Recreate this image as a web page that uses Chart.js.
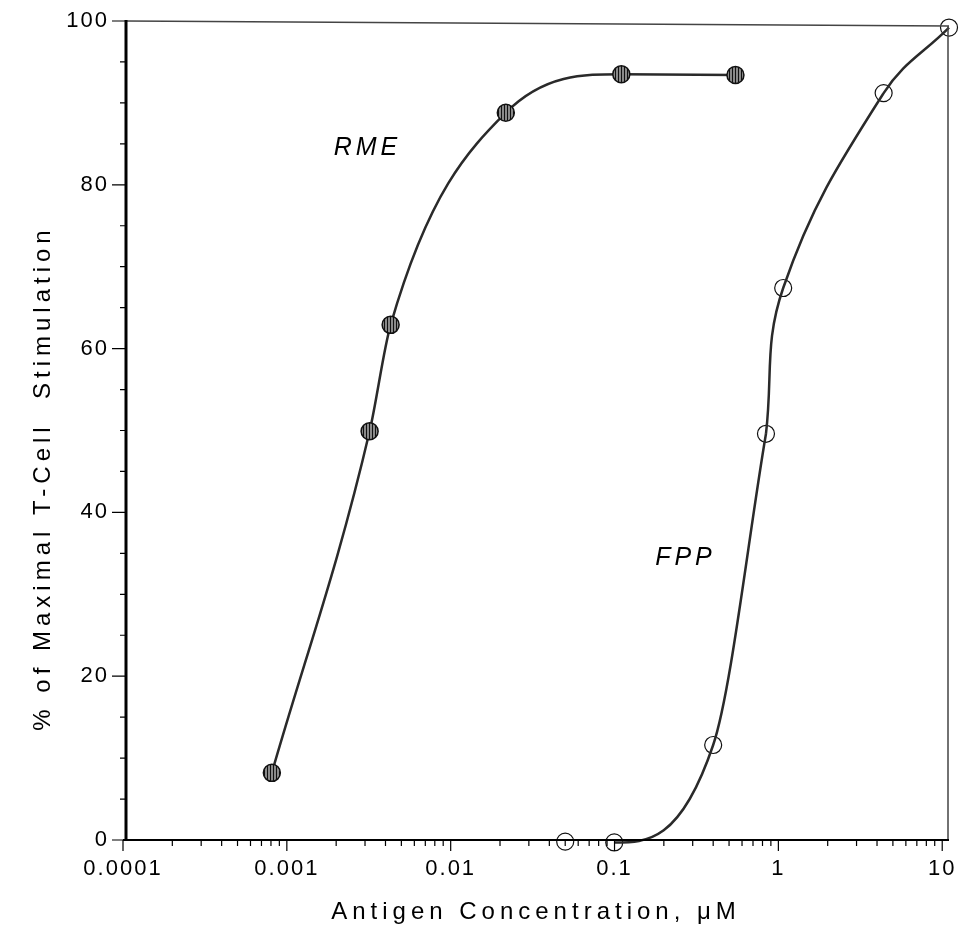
<!DOCTYPE html>
<html>
<head>
<meta charset="utf-8">
<script src="https://cdn.jsdelivr.net/npm/chart.js@4"></script>
<style>
  body { margin: 0; background: #fff; }
  canvas { display: block; }
</style>
</head>
<body>
<canvas id="chart" width="959" height="927"></canvas>
<script>
// RME (filled, hatched circles)
const rmeConc = [0.00081, 0.0032, 0.0043, 0.0217, 0.11, 0.547];
const rmeStim = [8.2, 49.9, 62.9, 88.8, 93.5, 93.4];

// FPP (open circles)
const fppConc = [0.05, 0.0996, 0.40, 0.84, 1.07, 4.39, 11.0];
const fppStim = [-0.2, -0.3, 11.6, 49.6, 67.4, 91.2, 99.2];

const xTickValues = [0.0001, 0.001, 0.01, 0.1, 1, 10];
const xTickLabels = ['0.0001', '0.001', '0.01', '0.1', '1', '10'];
const yTickValues = [0, 20, 40, 60, 80, 100];

const xTitle = 'Antigen Concentration, \u03bcM';
const yTitle = '% of Maximal T-Cell  Stimulation';

const toPoints = (xs, ys) => xs.map((x, i) => ({ x, y: ys[i] }));
const fppPts = toPoints(fppConc, fppStim);

// vertical hatch fill for the RME markers
function hatch() {
  const c = document.createElement('canvas');
  c.width = 3; c.height = 3;
  const g = c.getContext('2d');
  g.fillStyle = '#8a8a8a';
  g.fillRect(0, 0, 3, 3);
  g.fillStyle = '#111';
  g.fillRect(0, 0, 1, 3);
  return g.createPattern(c, 'repeat');
}

const ctx = document.getElementById('chart').getContext('2d');
const FONT = '"Liberation Sans", Arial, Helvetica, sans-serif';
const LINE = '#2a2a2a';

// frame, tick marks, axis titles and curve labels
const decor = {
  id: 'decor',
  beforeDraw(chart) {
    chart.ctx.letterSpacing = '2px';
  },
  afterDraw(chart) {
    const c = chart.ctx;
    const { left, right, top, bottom } = chart.chartArea;
    const xs = chart.scales.x, ys = chart.scales.y;
    c.save();
    c.letterSpacing = '0px';

    // top / right thin frame
    c.lineWidth = 1.5;
    c.strokeStyle = '#444';
    c.beginPath();
    c.moveTo(left + 3, top); c.lineTo(right, top + 5);
    c.moveTo(right - 1, top + 5); c.lineTo(right - 1, bottom);
    c.stroke();

    // heavy left and bottom axes
    c.strokeStyle = '#000';
    c.lineWidth = 3;
    c.beginPath();
    c.moveTo(left + 3, top - 1); c.lineTo(left + 3, bottom + 1);
    c.stroke();
    c.lineWidth = 2;
    c.beginPath();
    c.moveTo(left, bottom); c.lineTo(right, bottom);
    c.stroke();

    // y ticks: major every 20, minor every 5
    c.lineWidth = 1.2;
    c.beginPath();
    for (let v = 0; v <= 100; v += 5) {
      const py = ys.getPixelForValue(v);
      const len = v % 20 === 0 ? 13 : 5;
      c.moveTo(left + 2, py); c.lineTo(left + 2 - len, py);
    }
    // x ticks: decades major, 2..9 minor
    for (let e = -4; e <= 1; e++) {
      for (let m = 1; m <= 9; m++) {
        const v = m * Math.pow(10, e);
        if (v > 10.0001) break;
        const px = xs.getPixelForValue(v);
        const len = m === 1 ? 11 : 6;
        c.moveTo(px, bottom); c.lineTo(px, bottom + len);
      }
    }
    c.stroke();

    // axis titles
    c.fillStyle = '#000';
    c.font = '24px ' + FONT;
    c.letterSpacing = '5px';
    c.textBaseline = 'alphabetic';
    c.textAlign = 'left';
    let w = c.measureText(xTitle).width;
    c.fillText(xTitle, 536 - w / 2, 919);

    w = c.measureText(yTitle).width;
    c.translate(50, 478);
    c.rotate(-Math.PI / 2);
    c.fillText(yTitle, -w / 2, 0);
    c.setTransform(1, 0, 0, 1, 0, 0);

    // curve labels
    c.font = 'italic 25px ' + FONT;
    c.letterSpacing = '4px';
    c.fillText('RME', xs.getPixelForValue(0.00193), ys.getPixelForValue(83.6));
    c.fillText('FPP', xs.getPixelForValue(0.177), ys.getPixelForValue(33.6));
    c.restore();
  }
};

new Chart(ctx, {
  type: 'scatter',
  data: {
    datasets: [
      {
        label: 'RME',
        data: toPoints(rmeConc, rmeStim),
        showLine: true,
        cubicInterpolationMode: 'monotone',
        borderColor: LINE,
        borderWidth: 2.5,
        pointRadius: 8.5,
        pointBackgroundColor: hatch(),
        pointBorderColor: '#111',
        pointBorderWidth: 1.5,
        clip: false
      },
      {
        // FPP lower fit (0.1 .. 0.84), flat start
        label: 'FPP fit low',
        data: fppPts.slice(0, 4),
        showLine: true,
        cubicInterpolationMode: 'monotone',
        borderColor: LINE,
        borderWidth: 2.5,
        segment: {
          borderColor: s => s.p0DataIndex === 0 ? 'rgba(0,0,0,0)' : LINE
        },
        pointRadius: 0,
        clip: false
      },
      {
        // FPP upper fit (0.84 .. 11)
        label: 'FPP fit high',
        data: fppPts.slice(3),
        showLine: true,
        tension: 0.4,
        borderColor: LINE,
        borderWidth: 2.5,
        pointRadius: 0,
        clip: false
      },
      {
        label: 'FPP',
        data: fppPts,
        showLine: false,
        pointRadius: 8.5,
        pointBackgroundColor: 'rgba(255,255,255,0)',
        pointBorderColor: '#111',
        pointBorderWidth: 1.2,
        clip: false
      }
    ]
  },
  options: {
    responsive: false,
    animation: false,
    layout: { padding: { left: 0, top: 21, right: 5, bottom: 0 } },
    plugins: { legend: { display: false }, tooltip: { enabled: false } },
    scales: {
      x: {
        type: 'logarithmic',
        min: 0.0001,
        max: 11,
        afterBuildTicks: s => { s.ticks = xTickValues.map(v => ({ value: v })); },
        afterFit: s => { s.height = 87; s.paddingLeft = 0; s.paddingRight = 0; },
        ticks: {
          autoSkip: false,
          maxRotation: 0,
          padding: 16,
          color: '#000',
          font: { family: FONT, size: 22 },
          callback: (v, i) => xTickLabels[i]
        },
        grid: { display: false, drawTicks: false },
        border: { display: false }
      },
      y: {
        min: 0,
        max: 100,
        afterBuildTicks: s => { s.ticks = yTickValues.map(v => ({ value: v })); },
        afterFit: s => { s.width = 123; s.paddingTop = 0; s.paddingBottom = 0; },
        ticks: {
          padding: 14,
          color: '#000',
          font: { family: FONT, size: 22 }
        },
        grid: { display: false, drawTicks: false },
        border: { display: false }
      }
    }
  },
  plugins: [decor]
});
</script>
</body>
</html>
